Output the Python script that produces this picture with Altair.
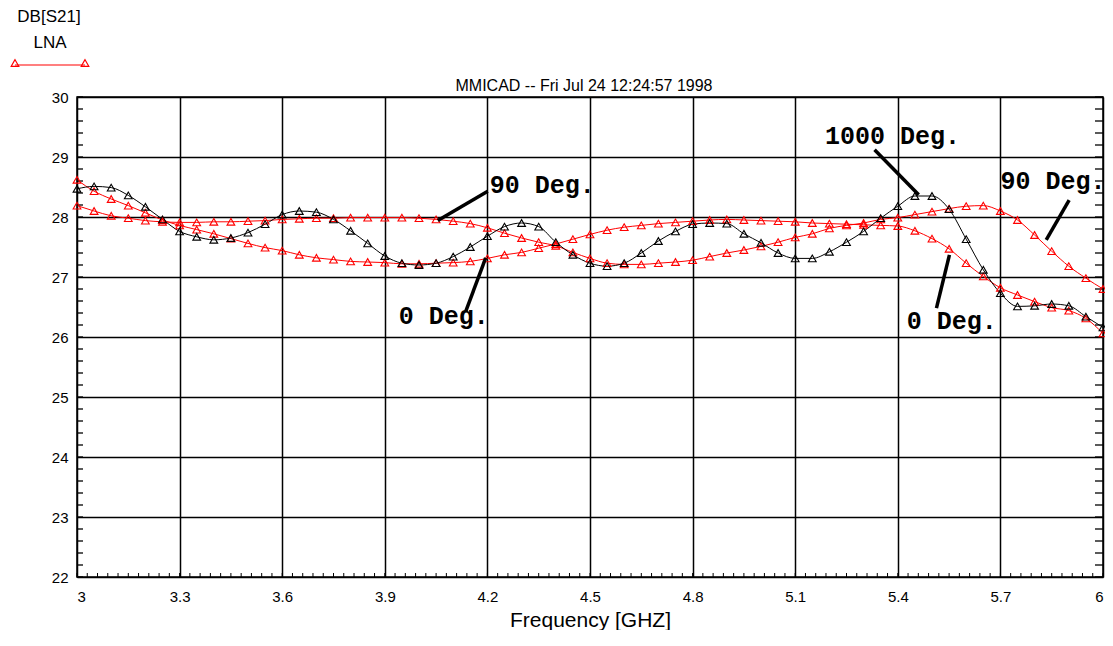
import altair as alt
import pandas as pd

# ---------------- data ----------------
freq = [3.00, 3.05, 3.10, 3.15, 3.20, 3.25, 3.30, 3.35, 3.40, 3.45,
        3.50, 3.55, 3.60, 3.65, 3.70, 3.75, 3.80, 3.85, 3.90, 3.95,
        4.00, 4.05, 4.10, 4.15, 4.20, 4.25, 4.30, 4.35, 4.40, 4.45,
        4.50, 4.55, 4.60, 4.65, 4.70, 4.75, 4.80, 4.85, 4.90, 4.95,
        5.00, 5.05, 5.10, 5.15, 5.20, 5.25, 5.30, 5.35, 5.40, 5.45,
        5.50, 5.55, 5.60, 5.65, 5.70, 5.75, 5.80, 5.85, 5.90, 5.95,
        6.00]

s21_0deg = [28.62, 28.43, 28.30, 28.19, 28.07, 27.95, 27.86, 27.79, 27.72, 27.64,
            27.56, 27.49, 27.44, 27.37, 27.32, 27.29, 27.26, 27.25, 27.24, 27.22,
            27.22, 27.23, 27.24, 27.26, 27.31, 27.37, 27.41, 27.48, 27.55, 27.63,
            27.71, 27.78, 27.83, 27.86, 27.89, 27.91, 27.93, 27.95, 27.96, 27.95,
            27.94, 27.93, 27.92, 27.90, 27.89, 27.88, 27.87, 27.86, 27.85, 27.77,
            27.64, 27.47, 27.23, 27.01, 26.82, 26.70, 26.59, 26.49, 26.44, 26.31,
            26.06]

s21_90deg = [28.19, 28.10, 28.02, 27.98, 27.94, 27.92, 27.91, 27.91, 27.92, 27.92,
             27.93, 27.94, 27.96, 27.97, 27.98, 27.98, 27.99, 27.99, 27.99, 27.99,
             27.98, 27.96, 27.93, 27.89, 27.82, 27.73, 27.65, 27.58, 27.52, 27.41,
             27.31, 27.23, 27.21, 27.21, 27.23, 27.25, 27.28, 27.34, 27.40, 27.45,
             27.51, 27.58, 27.66, 27.72, 27.81, 27.86, 27.90, 27.96, 27.99, 28.04,
             28.09, 28.14, 28.18, 28.19, 28.10, 27.95, 27.70, 27.43, 27.18, 26.98,
             26.80]

s21_1000deg = [28.47, 28.51, 28.49, 28.36, 28.17, 27.96, 27.76, 27.67, 27.62, 27.65,
               27.74, 27.88, 28.04, 28.10, 28.08, 27.96, 27.77, 27.56, 27.35, 27.23,
               27.20, 27.23, 27.34, 27.50, 27.68, 27.84, 27.90, 27.84, 27.58, 27.37,
               27.23, 27.18, 27.23, 27.40, 27.60, 27.76, 27.88, 27.90, 27.89, 27.72,
               27.57, 27.40, 27.31, 27.31, 27.42, 27.58, 27.76, 27.98, 28.18, 28.35,
               28.35, 28.13, 27.63, 27.12, 26.73, 26.51, 26.52, 26.55, 26.52, 26.34,
               26.16]

series_names = ["0 Deg.", "90 Deg.", "1000 Deg."]
series_colors = ["#ff0000", "#ff0000", "#000000"]

# annotations (data units)
ann_label = ["90 Deg.", "0 Deg.", "1000 Deg.", "90 Deg.", "0 Deg."]
ann_text_x = [4.207, 3.941, 5.187, 5.700, 5.426]
ann_text_y = [28.40, 26.21, 29.22, 28.46, 26.13]
ann_line_x1 = [4.055, 4.195, 5.332, 5.901, 5.551]
ann_line_y1 = [27.94, 27.32, 29.12, 28.28, 27.37]
ann_line_x2 = [4.201, 4.137, 5.461, 5.834, 5.513]
ann_line_y2 = [28.43, 26.43, 28.37, 27.62, 26.48]

x_ticks = [3.0, 3.3, 3.6, 3.9, 4.2, 4.5, 4.8, 5.1, 5.4, 5.7, 6.0]
y_ticks = [22, 23, 24, 25, 26, 27, 28, 29, 30]
x_minor = [round(3.0 + 0.03 * i, 2) for i in range(101)]
y_minor = [round(22.0 + 0.2 * i, 1) for i in range(41)]

chart_title = "MMICAD -- Fri Jul 24 12:24:57 1998"
y_title_lines = ["DB[S21]", "LNA"]
x_title = "Frequency [GHZ]"

# ---------------- build ----------------
W, H = 1026, 480

rows = []
for name, vals in zip(series_names, [s21_0deg, s21_90deg, s21_1000deg]):
    for f, v in zip(freq, vals):
        rows.append({"series": name, "freq": f, "db": v})
df = pd.DataFrame(rows)

ann = pd.DataFrame({
    "label": ann_label, "tx": ann_text_x, "ty": ann_text_y,
    "x1": ann_line_x1, "y1": ann_line_y1, "x2": ann_line_x2, "y2": ann_line_y2,
})

SANS = "Liberation Sans"

xs = alt.Scale(domain=[3, 6], nice=False, zero=False)
ys = alt.Scale(domain=[22, 30], nice=False, zero=False)
cs = alt.Scale(domain=series_names, range=series_colors)

main_x_axis = alt.Axis(
    values=x_ticks, format="~g", grid=True, gridColor="black", gridWidth=1.5,
    gridOpacity=1, ticks=False, tickSize=0, domain=False,
    labelFont=SANS, labelFontSize=15, labelColor="black", labelPadding=12,
    title=x_title, titleFont=SANS, titleFontSize=21, titleFontWeight="normal",
    titleColor="black", titlePadding=5,
)
main_y_axis = alt.Axis(
    values=y_ticks, format="d", grid=True, gridColor="black", gridWidth=1.5,
    gridOpacity=1, ticks=False, tickSize=0, domain=False,
    labelFont=SANS, labelFontSize=15, labelColor="black", labelPadding=9,
    title=None,
)

base = alt.Chart(df)

lines = base.mark_line(strokeWidth=1, interpolate="monotone").encode(
    x=alt.X("freq:Q", scale=xs, axis=main_x_axis),
    y=alt.Y("db:Q", scale=ys, axis=main_y_axis),
    color=alt.Color("series:N", scale=cs, legend=None),
    detail="series:N",
)

points = base.mark_point(shape="triangle-up", filled=False, size=60,
                         strokeWidth=1.1, opacity=1).encode(
    x=alt.X("freq:Q", scale=xs, axis=None),
    y=alt.Y("db:Q", scale=ys, axis=None),
    color=alt.Color("series:N", scale=cs, legend=None),
)

# minor ticks drawn inward from the frame
xm = alt.Chart(pd.DataFrame({"v": x_minor}))
ym = alt.Chart(pd.DataFrame({"v": y_minor}))
minor_bottom = xm.mark_rule(color="black", strokeWidth=1).encode(
    x=alt.X("v:Q", scale=xs, axis=None), y=alt.value(H), y2=alt.value(H - 4))
minor_left = ym.mark_rule(color="black", strokeWidth=1.3).encode(
    y=alt.Y("v:Q", scale=ys, axis=None), x=alt.value(0), x2=alt.value(6))
minor_right = ym.mark_rule(color="black", strokeWidth=1.3).encode(
    y=alt.Y("v:Q", scale=ys, axis=None), x=alt.value(W - 8), x2=alt.value(W))

ann_base = alt.Chart(ann)
pointers = ann_base.mark_rule(strokeWidth=3.5, color="black").encode(
    x=alt.X("x1:Q", scale=xs, axis=None),
    y=alt.Y("y1:Q", scale=ys, axis=None),
    x2="x2:Q", y2="y2:Q",
)
ann_text = ann_base.mark_text(font="Liberation Mono", fontWeight="bold",
                              fontSize=25, align="left", baseline="alphabetic",
                              color="black").encode(
    x=alt.X("tx:Q", scale=xs, axis=None),
    y=alt.Y("ty:Q", scale=ys, axis=None),
    text="label:N",
)

def label(txt, px, py, size, font=SANS):
    return alt.Chart(pd.DataFrame({"t": [txt]})).mark_text(
        font=font, fontSize=size, color="black", align="center",
        baseline="middle").encode(x=alt.value(px), y=alt.value(py), text="t:N")

head_title = label(chart_title, 507, -11, 16)
ytitle1 = label(y_title_lines[0], -28, -80, 17)
ytitle2 = label(y_title_lines[1], -27, -54, 17)

leg_df = alt.Chart(pd.DataFrame({"s": ["LNA"]}))
leg_line = leg_df.mark_rule(color="#ff0000", strokeWidth=1.2).encode(
    x=alt.value(-62), x2=alt.value(8), y=alt.value(-32))
leg_tri1 = leg_df.mark_point(shape="triangle-up", filled=False, size=60,
                             color="#ff0000", strokeWidth=1.1, opacity=1).encode(
    x=alt.value(-62), y=alt.value(-34))
leg_tri2 = leg_df.mark_point(shape="triangle-up", filled=False, size=60,
                             color="#ff0000", strokeWidth=1.1, opacity=1).encode(
    x=alt.value(8), y=alt.value(-34))

chart = alt.layer(
    lines, minor_bottom, minor_left, minor_right, points, pointers, ann_text,
    head_title, ytitle1, ytitle2, leg_line, leg_tri1, leg_tri2,
).resolve_axis(
    x="independent", y="independent"
).properties(
    width=W, height=H,
    autosize=alt.AutoSizeParams(type="none"),
    padding={"left": 69, "top": 89, "right": 2, "bottom": 53},
    background="white",
).configure_view(
    stroke="black", strokeWidth=1.5
)

chart.save("out.html", embed_options={"renderer": "svg", "actions": False})
